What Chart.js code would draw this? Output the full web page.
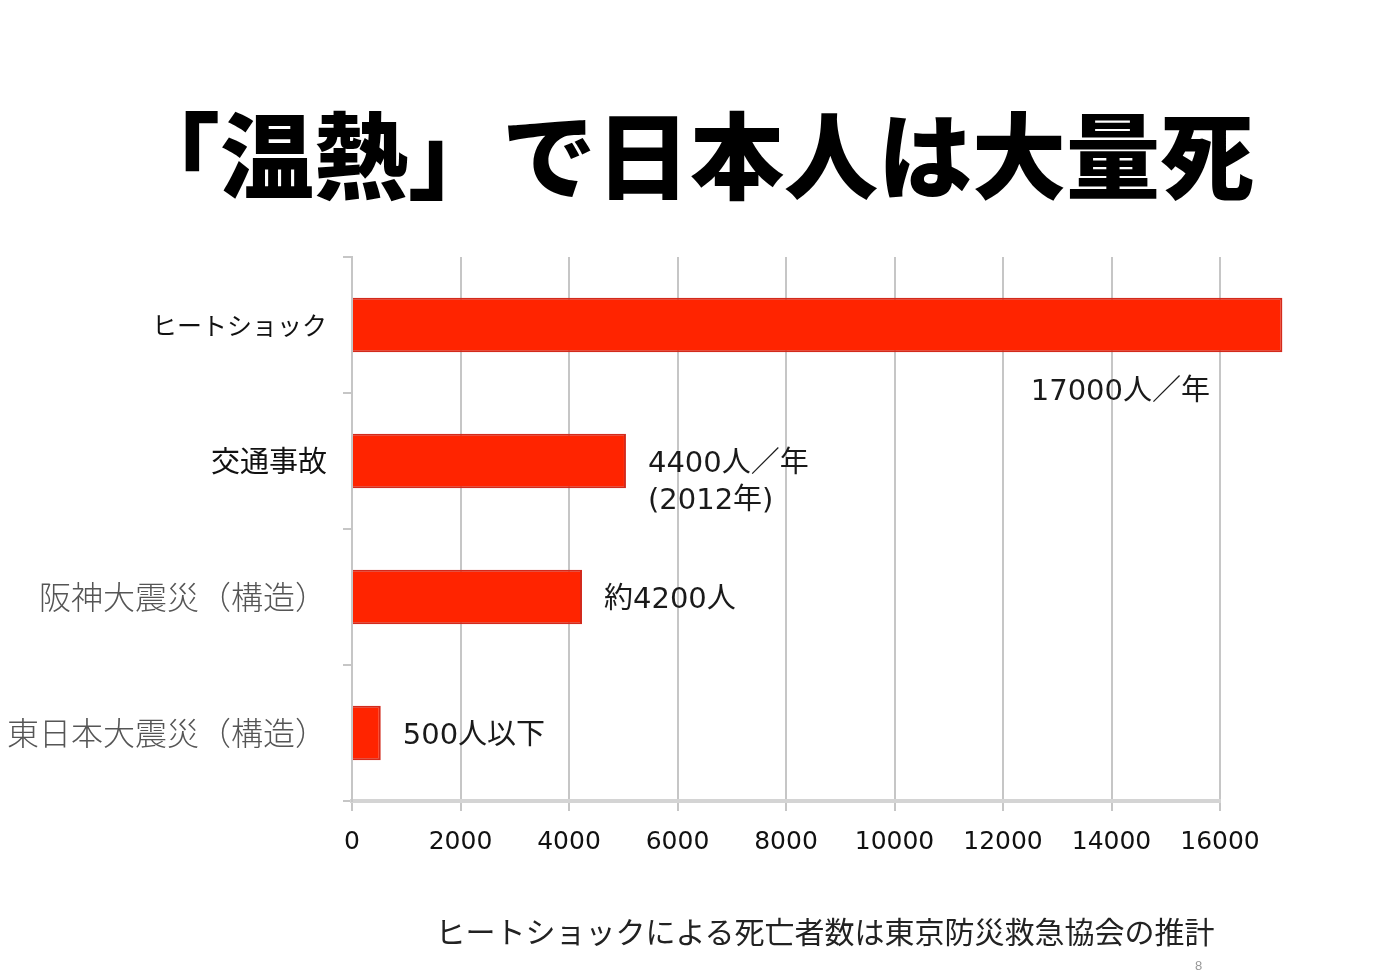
<!DOCTYPE html>
<html>
<head>
<meta charset="utf-8">
<script src="https://cdn.jsdelivr.net/npm/chart.js@4"></script>
<style>
  body { margin: 0; background: #fff; overflow: hidden; }
  #wrap { position: relative; width: 1400px; height: 976px; }
  .txt { position: absolute; white-space: nowrap; transform: translateX(-50%); font-family: 'Noto Sans CJK JP', sans-serif; line-height: 1; }
  #title { left: 690px; top: 104px; font-size: 94px; font-weight: 900; color: #000; }
  #note { left: 825px; top: 915px; font-size: 30px; color: #222; }
  #pageNo { position: absolute; left: 1195px; top: 958px; font: 13px 'Liberation Sans', sans-serif; color: #999; }
</style>
</head>
<body>
<div id="wrap">
  <canvas id="deathChart" width="1400" height="976"></canvas>
  <div id="title" class="txt"></div>
  <div id="note" class="txt"></div>
  <div id="pageNo">8</div>
</div>
<script>
// data
const categories = ['ヒートショック', '交通事故', '阪神大震災（構造）', '東日本大震災（構造）'];
const deaths = [17150, 5050, 4240, 530];
const valueLabels = [['17000人／年'], ['4400人／年', '(2012年)'], ['約4200人'], ['500人以下']];
const xTicks = [0, 2000, 4000, 6000, 8000, 10000, 12000, 14000, 16000];

const titleText = '「温熱」で日本人は大量死';
const noteText = 'ヒートショックによる死亡者数は東京防災救急協会の推計';

document.getElementById('title').textContent = titleText;
document.getElementById('note').textContent = noteText;

const jp = "'Noto Sans CJK JP', 'Noto Sans', sans-serif";
const latin = "'DejaVu Sans', 'Noto Sans CJK JP', sans-serif";

// draws the text next to each bar
const barLabels = {
    id: 'barLabels',
    afterDatasetsDraw(chart) {
        const ctx = chart.ctx;
        const area = chart.chartArea;
        const bars = chart.getDatasetMeta(0).data;
        ctx.save();
        ctx.font = '29px ' + latin;
        ctx.fillStyle = '#1a1a1a';
        ctx.textBaseline = 'middle';
        bars.forEach((bar, i) => {
            const lines = valueLabels[i];
            if (bar.x > area.right) {
                // bar runs past the axis, put label underneath
                ctx.textAlign = 'right';
                lines.forEach((t, j) => ctx.fillText(t, area.right - 10, bar.y + 67 + j * 37));
            } else {
                ctx.textAlign = 'left';
                lines.forEach((t, j) => ctx.fillText(t, bar.x + 22, bar.y + 3 + j * 37));
            }
        });
        ctx.restore();
    }
};

new Chart(document.getElementById('deathChart').getContext('2d'), {
    type: 'bar',
    data: {
        labels: categories,
        datasets: [{
            data: deaths,
            backgroundColor: '#ff2400',
            borderColor: '#d32a1c',
            borderWidth: 2,
            barPercentage: 0.8,
            categoryPercentage: 0.5,
            clip: false
        }]
    },
    options: {
        indexAxis: 'y',
        responsive: false,
        animation: false,
        layout: { padding: { left: 0, right: 180, top: 257, bottom: 75 } },
        plugins: {
            legend: { display: false },
            tooltip: { enabled: false }
        },
        scales: {
            x: {
                min: 0,
                max: 16000,
                afterBuildTicks: scale => { scale.ticks = xTicks.map(v => ({ value: v })); },
                afterFit: scale => { scale.height = 100; },
                grid: { color: '#c6c6c6', lineWidth: 2, tickLength: 10 },
                border: { color: '#d4d4d4', width: 4 },
                ticks: {
                    color: '#111',
                    padding: 16,
                    font: { family: latin, size: 25 },
                    callback: v => String(v)
                }
            },
            y: {
                afterFit: scale => { scale.width = 352; },
                grid: { drawOnChartArea: false, color: '#c6c6c6', lineWidth: 2, tickLength: 9, offset: true },
                border: { color: '#c6c6c6', width: 2 },
                ticks: {
                    padding: 16,
                    color: ctx => ctx.index < 2 ? '#111' : '#555',
                    font: ctx => ctx.index === 0 ? { family: jp, size: 25 }
                        : ctx.index === 1 ? { family: jp, size: 29 }
                        : { family: jp, size: 32, weight: 300 }
                }
            }
        }
    },
    plugins: [barLabels]
});
</script>
</body>
</html>
